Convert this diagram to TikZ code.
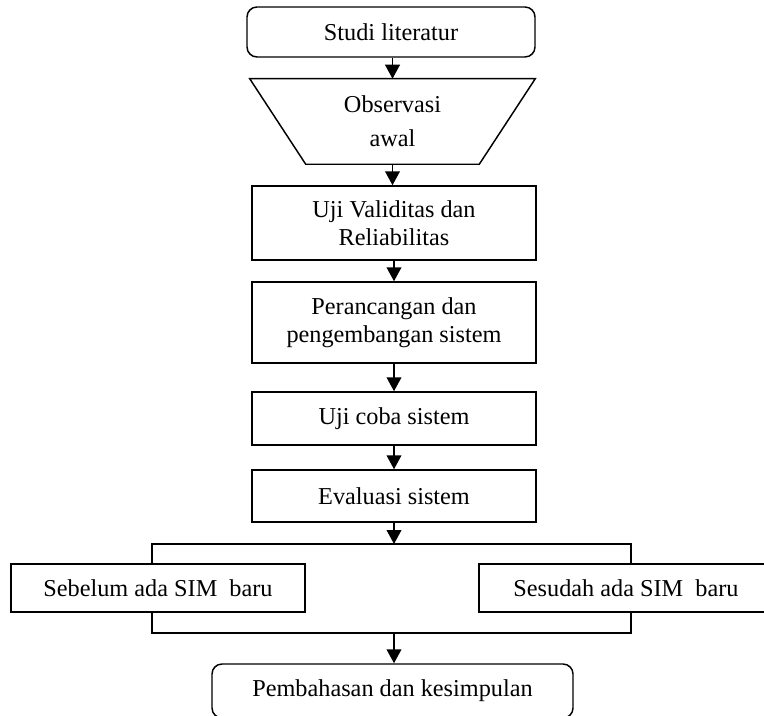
\documentclass[tikz,border=0pt]{standalone}
\usepackage{fontspec}
\setmainfont{Liberation Serif}
\usetikzlibrary{arrows.meta,calc}
\begin{document}
\begin{tikzpicture}[x=0.75pt,y=-0.75pt,
  every node/.style={font=\fontsize{18.2}{21}\selectfont, align=center, inner sep=0pt},
  box/.style={draw, line width=1.1pt, minimum width=213pt},
  rbox/.style={draw, line width=1.1pt, rounded corners=7.5pt},
  flow/.style={line width=1.4pt, -{Triangle[width=11pt,length=10.5pt]}},
  brk/.style={line width=1.1pt}]
\useasboundingbox (0,0) rectangle (764,716);
\clip (0,0) rectangle (764,716);
\fill[white] (0,0) rectangle (764,716);

\node[rbox, minimum width=216pt, minimum height=37.5pt] (studi) at (391,32) {Studi literatur};
\node[minimum width=213.75pt, minimum height=63.75pt, font=\fontsize{18.2}{25.5}\selectfont] (obs) at (392.5,121.5) {Observasi\\awal};
\draw[line width=1.1pt] (obs.north west) -- (obs.north east) -- ($(obs.south east)+(-56,0)$) -- ($(obs.south west)+(56,0)$) -- cycle;
\node[box, minimum height=55.5pt] (uv) at (394,223) {Uji Validitas dan\\Reliabilitas};
\node[box, minimum height=60.75pt] (per) at (394,322.5) {Perancangan dan\\pengembangan sistem};
\node[box, minimum height=39.75pt] (ujc) at (394,418.5) {Uji coba sistem};
\node[box, minimum height=39pt] (eva) at (394,496) {Evaluasi sistem};
\node[box, minimum width=220.5pt, minimum height=36pt] (seb) at (158,588) {Sebelum ada SIM\ \ baru};
\node[box, minimum width=220.5pt, minimum height=36pt] (ses) at (626,588) {Sesudah ada SIM\ \ baru};
\node[rbox, minimum width=270.75pt, minimum height=40.5pt] (pem) at (392.5,691) {Pembahasan dan kesimpulan};

\coordinate (split) at (394,544);
\coordinate (join) at (394,633);
\coordinate (tl) at (152,544);
\coordinate (tr) at (631,544);
\coordinate (bl) at (152,633);
\coordinate (br) at (631,633);

\draw[flow] (studi.south -| obs.north) -- (obs.north);
\draw[flow] (obs.south) -- (uv.north -| obs.south);
\draw[flow] (uv) -- (per);
\draw[flow] (per) -- (ujc);
\draw[flow] (ujc) -- (eva);
\draw[flow] (eva.south) -- (split);
\draw[brk] (tl |- seb.north) -- (tl) -- (tr) -- (tr |- ses.north);
\draw[brk] (bl |- seb.south) -- (bl) -- (br) -- (br |- ses.south);
\draw[flow] (join) -- (join |- pem.north);
\end{tikzpicture}
\end{document}
